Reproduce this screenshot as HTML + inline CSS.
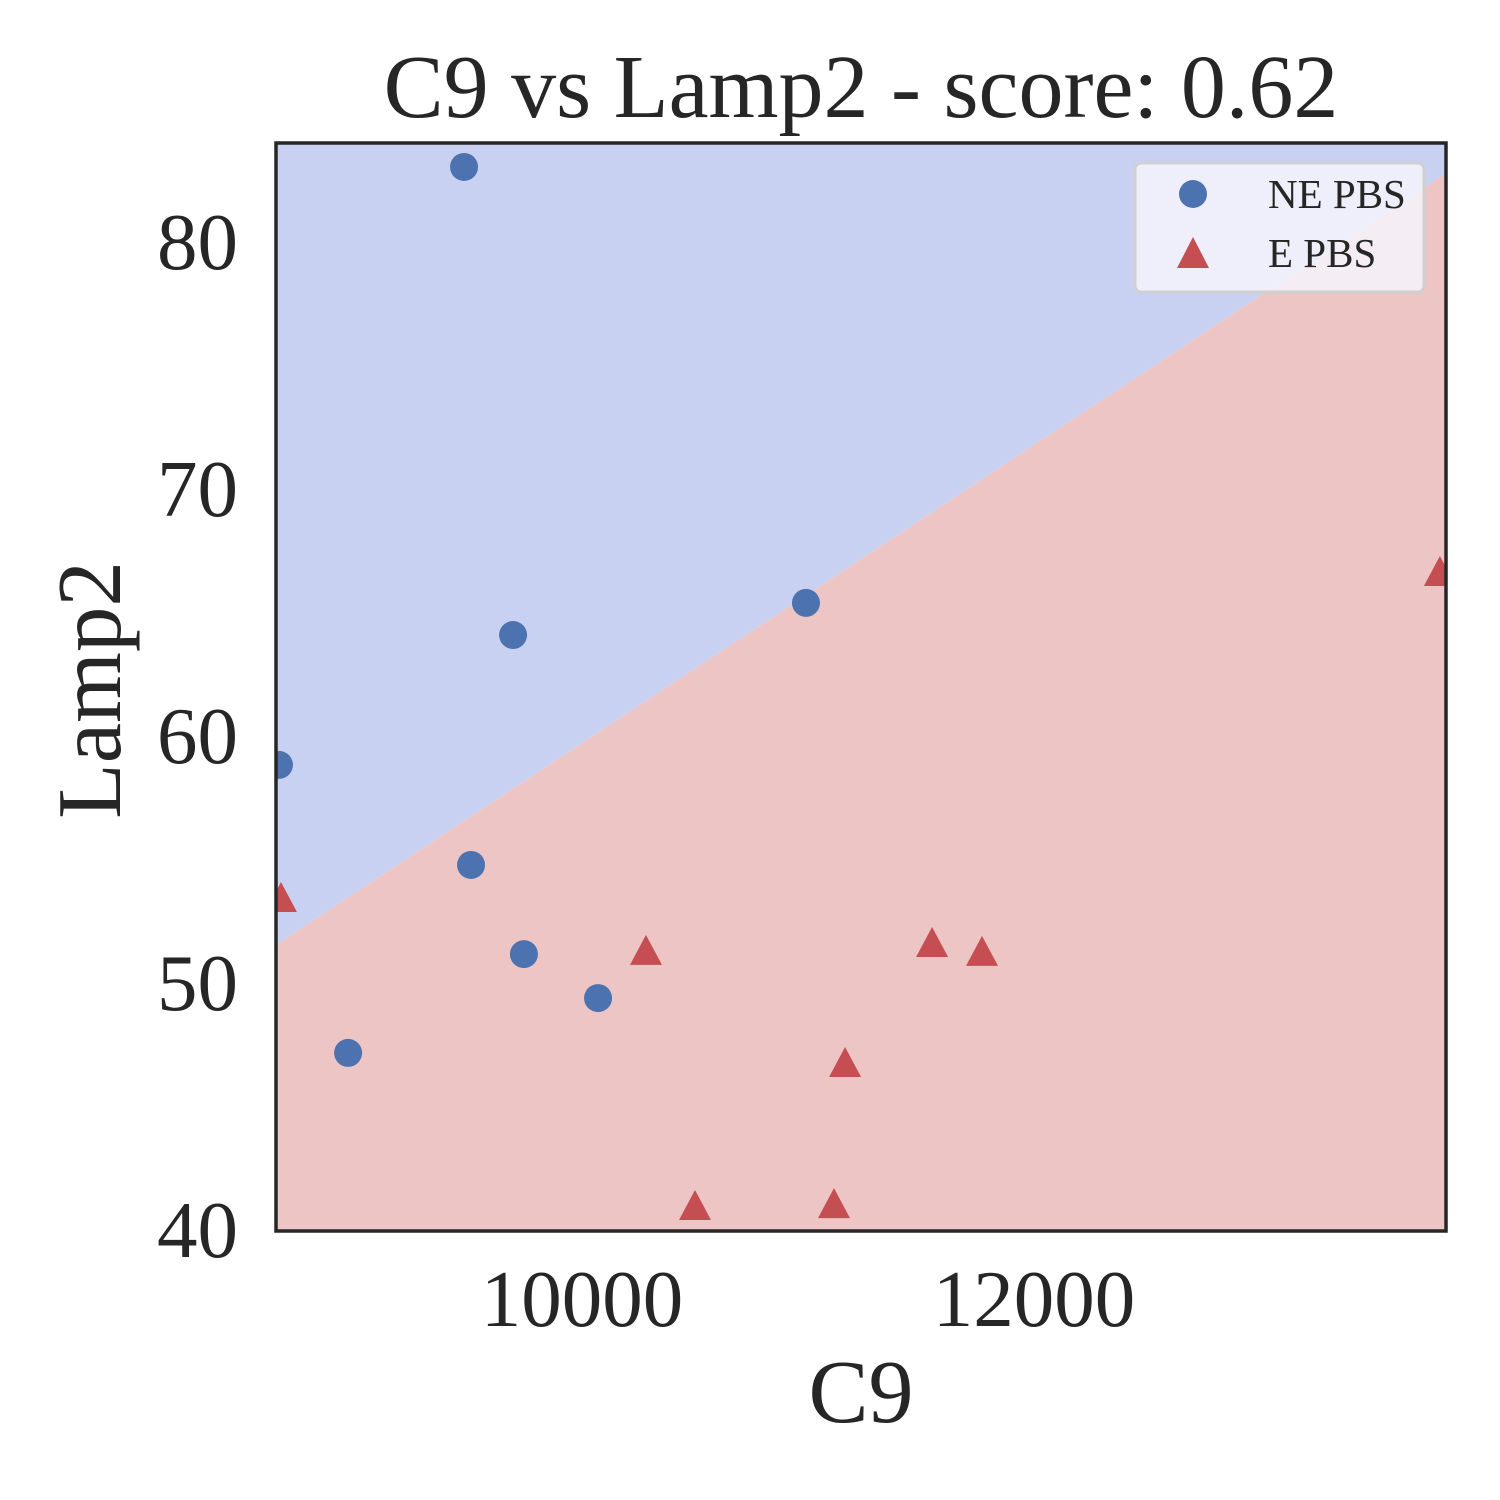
<!DOCTYPE html>
<html><head><meta charset="utf-8"><style>
html,body{margin:0;padding:0;background:#fff;}
svg{display:block;font-family:"Liberation Serif",serif;}
</style></head><body>
<svg id="chart" width="1500" height="1500" viewBox="0 0 1500 1500" xmlns="http://www.w3.org/2000/svg">
<defs><clipPath id="clip"><rect x="276" y="143" width="1170" height="1088"/></clipPath></defs>
<rect width="1500" height="1500" fill="#fff"/>
<g id="regions" clip-path="url(#clip)"></g>
<g id="points" clip-path="url(#clip)"></g>
<rect x="276" y="143" width="1170" height="1088" fill="none" stroke="#262626" stroke-width="3.5"/>
<g id="ticks"></g>
<text x="861" y="117" font-size="90" text-anchor="middle" fill="#262626">C9 vs Lamp2 - score: 0.62</text>
<text x="861" y="1422" font-size="90" text-anchor="middle" fill="#262626">C9</text>
<text transform="translate(120,690) rotate(-90)" font-size="91" text-anchor="middle" fill="#262626">Lamp2</text>
<g>
<rect x="1135" y="163" width="289" height="129" rx="6" fill="#f5f5fd" fill-opacity="0.85" stroke="#d0d0d0" stroke-width="3"/>
<g>
<circle cx="1193" cy="194" r="14" fill="#4c72b0"/>
<text x="1268" y="208" font-size="41" fill="#262626">NE PBS</text></g>
<g>
<polygon points="1193,237 1209,268 1177,268" fill="#c44e52"/>
<text x="1268" y="267" font-size="41" fill="#262626">E PBS</text></g>
</g>
</svg>
<script>
const neX=[9478,9695,10991,8659,9509,9743,10071,8965];
const neY=[83.08,64.13,65.43,58.87,54.82,51.21,49.43,47.21];
const eX=[8668,10283,11549,11770,11164,10500,11115,13796];
const eY=[53.48,51.34,51.66,51.30,46.80,41.01,41.09,66.68];
const boundaryX=[8646,13823];
const boundaryY=[51.58,82.83];
const xTicks=[10000,12000];
const yTicks=[40,50,60,70,80];
const xMin=8646,xMax=13823,yMin=40,yMax=84.05;
const L=276,R=1446,T=143,B=1231;
const sx=v=>L+(v-xMin)/(xMax-xMin)*(R-L);
const sy=v=>B-(v-yMin)/(yMax-yMin)*(B-T);
const NS="http://www.w3.org/2000/svg";
function mk(tag,attrs,parent){const e=document.createElementNS(NS,tag);for(const k in attrs)e.setAttribute(k,attrs[k]);parent.appendChild(e);return e;}
const reg=document.getElementById('regions');
const bx0=sx(boundaryX[0]),by0=sy(boundaryY[0]),bx1=sx(boundaryX[1]),by1=sy(boundaryY[1]);
const blue=mk('polygon',{points:`${L},${T} ${R},${T} ${bx1},${by1} ${bx0},${by0}`,fill:'#c8d1f1'},reg);


const red=mk('polygon',{points:`${bx0},${by0} ${bx1},${by1} ${R},${B} ${L},${B}`,fill:'#edc5c4'},reg);


const pts=document.getElementById('points');
neX.forEach((x,i)=>{const c=mk('circle',{cx:sx(x),cy:sy(neY[i]),r:14,fill:'#4c72b0'},pts);

});
eX.forEach((x,i)=>{const cx=sx(x),cy=sy(eY[i]);const p=mk('polygon',{points:`${cx},${cy-16} ${cx+16},${cy+14} ${cx-16},${cy+14}`,fill:'#c44e52'},pts);

});
const tk=document.getElementById('ticks');
xTicks.forEach(v=>{const t=mk('text',{x:sx(v),y:1326,'font-size':81,'text-anchor':'middle',fill:'#262626'},tk);t.textContent=v;

});
yTicks.forEach(v=>{const t=mk('text',{x:238,y:sy(v)+26,'font-size':81,'text-anchor':'end',fill:'#262626'},tk);t.textContent=v;

});
</script>
</body></html>
